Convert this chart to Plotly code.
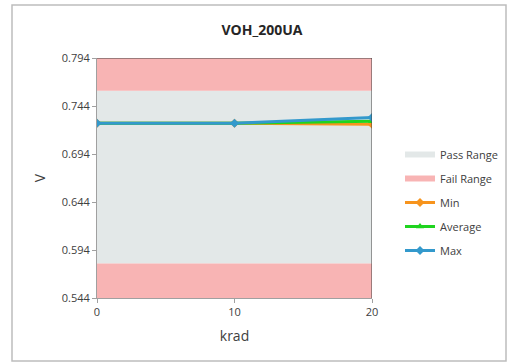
import plotly.graph_objects as go

# Dose points (krad) and measured VOH at 200uA (V)
krad = [0, 10, 20]
v_min = [0.726, 0.726, 0.725]
v_avg = [0.726, 0.726, 0.728]
v_max = [0.726, 0.726, 0.732]

# Limits and axis range
pass_low, pass_high = 0.58, 0.76
y_min, y_max = 0.544, 0.794
y_ticks = [0.544, 0.594, 0.644, 0.694, 0.744, 0.794]

W, H = 509, 364
L, R, T, B = 97, 137, 58, 66

x0, x1 = krad[0], krad[-1]

fig = go.Figure()

fig.add_trace(go.Scatter(
    x=[x0, x1, x1, x0, x0], y=[pass_low, pass_low, pass_high, pass_high, pass_low],
    fill="toself", mode="none", fillcolor="#e3e8e8", name="Pass Range",
    legendgroup="a", hoverinfo="skip"))

fig.add_trace(go.Scatter(
    x=[x0, x1, x1, x0, x0, None, x0, x1, x1, x0, x0],
    y=[pass_high, pass_high, y_max, y_max, pass_high, None,
       y_min, y_min, pass_low, pass_low, y_min],
    fill="toself", mode="none", fillcolor="#f8b4b4", name="Fail Range",
    legendgroup="b", hoverinfo="skip"))

series = [
    ("Min", v_min, "#f7941d", "diamond"),
    ("Average", v_avg, "#1fd41f", "triangle-up"),
    ("Max", v_max, "#3399cc", "diamond"),
]
for i, (name, vals, color, sym) in enumerate(series):
    fig.add_trace(go.Scatter(
        x=krad, y=vals, name=name, mode="lines+markers",
        line=dict(color=color, width=3),
        marker=dict(symbol=sym, size=7, color=color),
        legendgroup="c%d" % i))

# plot area frame on top and right
fig.add_shape(type="line", xref="x", yref="y", x0=x0, x1=x1, y0=y_max, y1=y_max,
              line=dict(color="#404040", width=1))
fig.add_shape(type="line", xref="x", yref="y", x0=x1, x1=x1, y0=y_min, y1=y_max,
              line=dict(color="#404040", width=1))

# chart outer border
pw, ph = W - L - R, H - T - B
fig.add_shape(type="rect", xref="paper", yref="paper",
              x0=(12 - L) / pw, x1=(506 - L) / pw,
              y0=(H - B - 361) / ph, y1=(H - B - 5) / ph,
              line=dict(color="#bdbdbd", width=1.5), layer="below")

fig.update_layout(
    width=W, height=H,
    margin=dict(l=L, r=R, t=T, b=B, autoexpand=False),
    paper_bgcolor="white", plot_bgcolor="white",
    font=dict(family="Open Sans, Liberation Sans, sans-serif", size=12, color="#404040"),
    title=dict(text="<b>VOH_200UA</b>", x=262 / W, xanchor="center",
               y=1 - 30 / H, yanchor="middle",
               font=dict(size=14, color="#262626")),
    showlegend=True,
    legend=dict(x=(400 - L) / pw, xanchor="left", y=(H - B - 140) / ph, yanchor="top",
                font=dict(size=11, color="#404040"), tracegroupgap=5,
                itemwidth=30, bgcolor="rgba(0,0,0,0)"),
    xaxis=dict(range=[x0, x1], tickvals=krad, ticks="outside", ticklen=4,
               tickcolor="#a0a0a0", showgrid=False, zeroline=False,
               showline=True, linecolor="#a0a0a0", linewidth=1,
               tickfont=dict(size=11),
               title=dict(text="krad", font=dict(size=14, color="#404040"), standoff=12)),
    yaxis=dict(range=[y_min, y_max], tickvals=y_ticks, tickformat=".3f",
               ticks="outside", ticklen=4, tickcolor="#a0a0a0",
               showgrid=False, zeroline=False, showline=True,
               linecolor="#a0a0a0", linewidth=1,
               tickfont=dict(size=11),
               title=dict(text="V", font=dict(size=14, color="#404040"), standoff=12)),
)

fig.write_html("out.html")
